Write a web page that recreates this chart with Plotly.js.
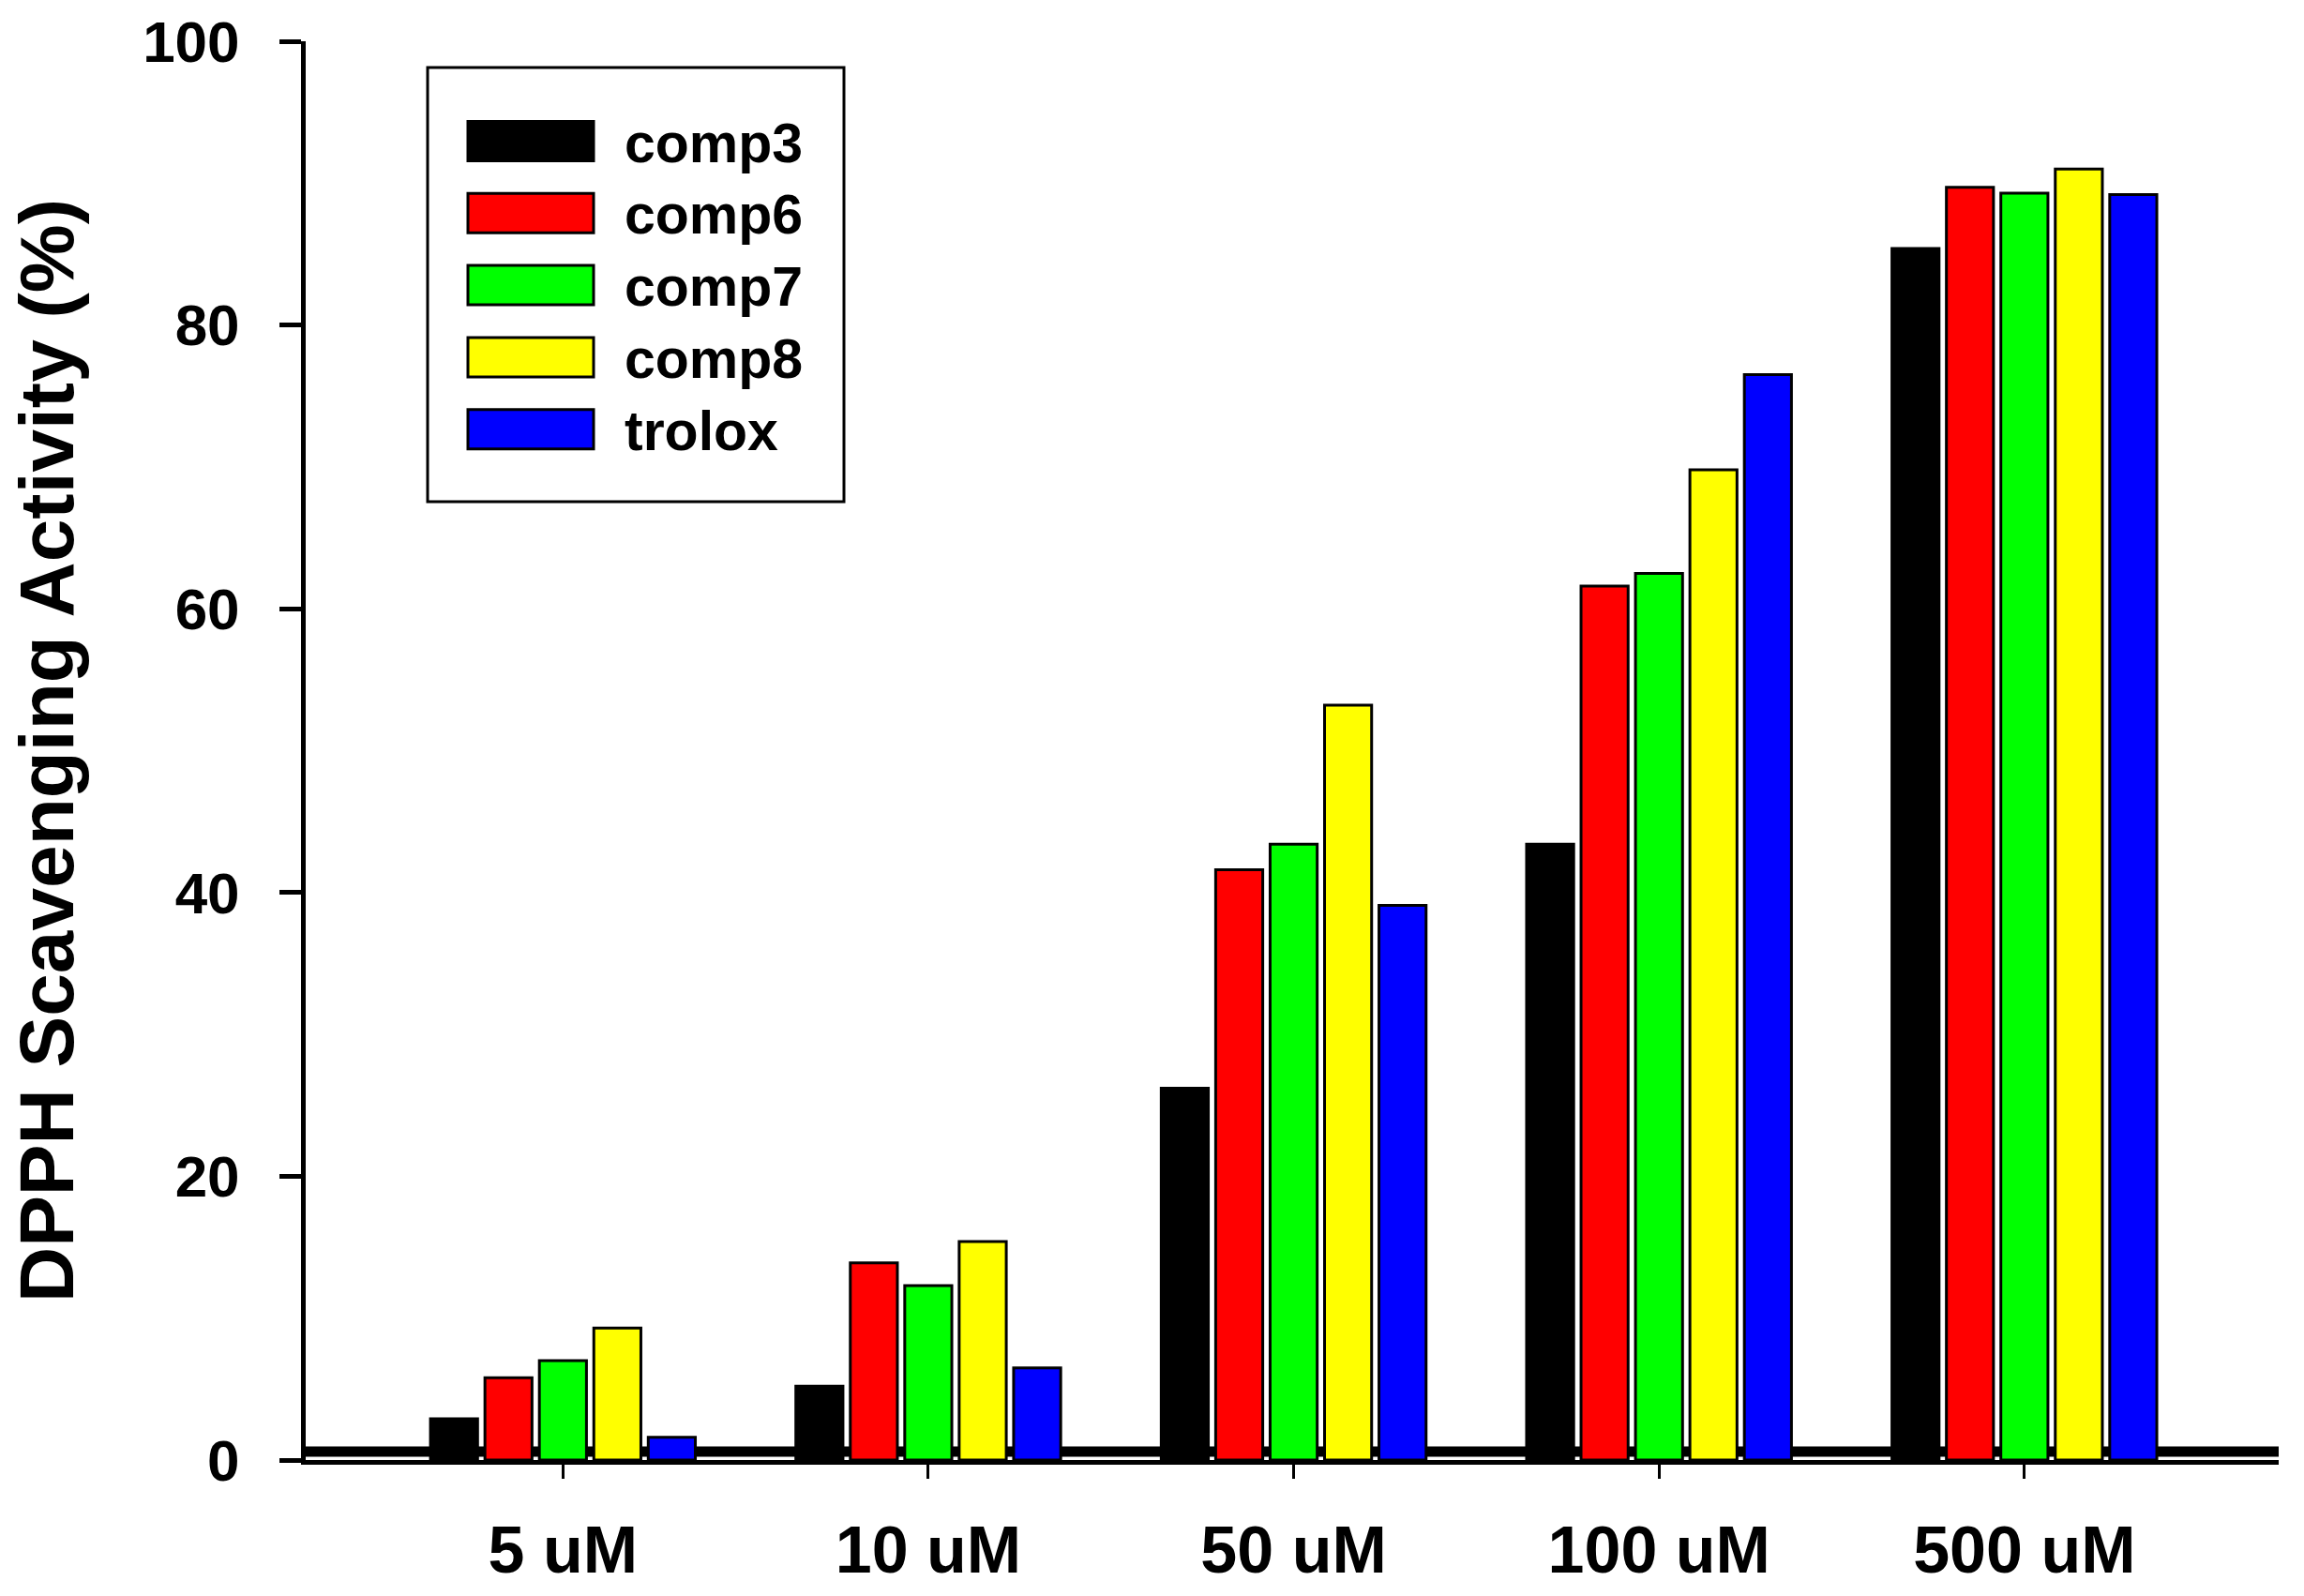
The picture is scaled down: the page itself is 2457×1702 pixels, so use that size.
<!DOCTYPE html>
<html>
<head>
<meta charset="utf-8">
<script src="https://cdn.plot.ly/plotly-3.0.1.min.js"></script>
<style>html,body{margin:0;padding:0;background:#fff;}#chart{width:2457px;height:1702px;}</style>
</head>
<body>
<div id="chart"></div>
<script>
// ---- data ----
const categories = ['5 uM', '10 uM', '50 uM', '100 uM', '500 uM'];
const comp3  = [2.9, 5.2, 26.2, 43.4, 85.4];
const comp6  = [5.8, 13.9, 41.6, 61.6, 89.7];
const comp7  = [7.0, 12.3, 43.4, 62.5, 89.3];
const comp8  = [9.3, 15.4, 53.2, 69.8, 91.0];
const trolox = [1.6, 6.5, 39.1, 76.5, 89.2];
const seriesNames = ['comp3', 'comp6', 'comp7', 'comp8', 'trolox'];
const seriesColors = ['#000000', '#ff0000', '#00ff00', '#ffff00', '#0000ff'];
const yTickVals = [0, 20, 40, 60, 80, 100];
const yTitle = 'DPPH Scavenging Activity (%)';

const seriesValues = [comp3, comp6, comp7, comp8, trolox];
const FONT = 'Liberation Sans, Arial, Helvetica, sans-serif';

const W = 2457, H = 1702;
const M = {l: 326, r: 27, t: 44, b: 145};
const plotW = W - M.l - M.r, plotH = H - M.t - M.b;
const px2x = p => (p - M.l) / plotW;
const px2y = p => 1 - (p - M.t) / plotH;

const traces = seriesNames.map((name, i) => ({
  type: 'bar',
  name: name,
  x: categories,
  y: seriesValues[i],
  marker: {color: seriesColors[i], line: {color: '#000', width: 3}},
  showlegend: false,
  hoverinfo: 'x+y+name'
}));

// custom legend (box + swatches + labels) built from the series arrays
const shapes = [];
const annotations = [];
// zero band behind bars
shapes.push({type: 'line', xref: 'paper', yref: 'y', x0: 0, x1: 1, y0: 0.6, y1: 0.6,
  line: {color: '#000', width: 11}, layer: 'below'});
// legend box
const box = {x0: 456, x1: 900, y0: 72, y1: 535};
shapes.push({type: 'rect', xref: 'paper', yref: 'paper',
  x0: px2x(box.x0), x1: px2x(box.x1), y0: px2y(box.y1), y1: px2y(box.y0),
  line: {color: '#000', width: 3}, fillcolor: 'rgba(0,0,0,0)', layer: 'above'});
const rowY0 = 150.5, rowStep = 76.8, swX0 = 499, swX1 = 633, swH = 42, txtX = 664;
seriesNames.forEach((name, i) => {
  const cy = rowY0 + i * rowStep;
  shapes.push({type: 'rect', xref: 'paper', yref: 'paper',
    x0: px2x(swX0), x1: px2x(swX1), y0: px2y(cy + swH / 2), y1: px2y(cy - swH / 2),
    fillcolor: seriesColors[i], line: {color: '#000', width: 3}, layer: 'above'});
  annotations.push({xref: 'paper', yref: 'paper', x: px2x(txtX), y: px2y(cy + 2),
    xanchor: 'left', yanchor: 'middle', text: name, showarrow: false,
    font: {family: FONT, size: 59, color: '#000', weight: 'bold'}});
});

const layout = {
  width: W, height: H,
  margin: M,
  paper_bgcolor: '#fff', plot_bgcolor: '#fff',
  barmode: 'group',
  bargap: 0.255,
  bargroupgap: 0.135,
  showlegend: false,
  font: {family: FONT, color: '#000', weight: 'bold'},
  xaxis: {
    type: 'category',
    range: [-0.704, 4.696],
    showline: true, linecolor: '#000', linewidth: 5,
    ticks: 'outside', ticklen: 15, tickwidth: 3, tickcolor: '#000',
    ticklabelstandoff: 16,
    tickfont: {family: FONT, size: 70, color: '#000', weight: 'bold'},
    showgrid: false, zeroline: false
  },
  yaxis: {
    range: [0, 100],
    tickvals: yTickVals,
    ticktext: yTickVals.map(String),
    showline: true, linecolor: '#000', linewidth: 5,
    ticks: 'outside', ticklen: 23, tickwidth: 5, tickcolor: '#000',
    ticklabelstandoff: 30,
    tickfont: {family: FONT, size: 62, color: '#000', weight: 'bold'},
    showgrid: false, zeroline: false,
    title: {text: yTitle, standoff: 48,
      font: {family: FONT, size: 82, color: '#000', weight: 'bold'}}
  },
  shapes: shapes,
  annotations: annotations
};

Plotly.newPlot('chart', traces, layout, {displayModeBar: false, staticPlot: true});
</script>
</body>
</html>
